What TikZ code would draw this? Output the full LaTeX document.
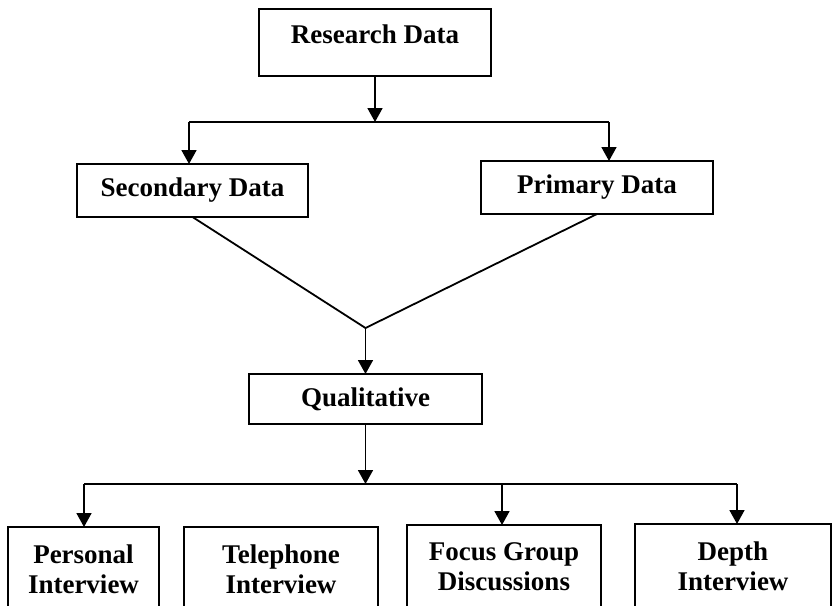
\documentclass[tikz,border=0pt]{standalone}
\usepackage{fontspec}
\setmainfont{Liberation Serif}
\usepackage{tikz}
\usetikzlibrary{arrows.meta}
\usetikzlibrary{calc}

\begin{document}
\begin{tikzpicture}[x=0.5pt,y=-0.5pt]

\tikzstyle{box}=[draw,line width=1pt,inner sep=0pt,outer sep=0pt,align=center,font=\fontsize{13.5}{15}\selectfont\bfseries]
\tikzstyle{link}=[line width=0.9pt]
\tikzstyle{arr}=[link,-{Triangle[length=7pt,width=7.5pt]}]

\useasboundingbox (0,0) rectangle (832,606);
\clip (0,0) rectangle (832,606);

% TOP
\node [box,minimum width=116pt,minimum height=33.5pt,text depth=8pt] (research) at (375,42.5) {Research Data};

% SECOND LEVEL
\node [box,minimum width=115.5pt,minimum height=26.5pt] (secondary) at (192.5,190.5) {Secondary Data};
\node [box,minimum width=116pt,minimum height=26.5pt] (primary) at (597,187.5) {Primary Data};

% QUALITATIVE
\node [box,minimum width=116.5pt,minimum height=25pt] (qual) at (365.5,399) {Qualitative};

% METHODS (bottom edges run off the page)
\node [box,anchor=north,minimum width=75.5pt,minimum height=42pt] (personal) at (83.5,527) {Personal\\Interview};
\node [box,anchor=north,minimum width=97pt,minimum height=42pt] (telephone) at (281,527) {Telephone\\Interview};
\node [box,anchor=north,minimum width=97pt,minimum height=42pt] (focus) at (504,525) {Focus Group\\Discussions};
\node [box,anchor=north,minimum width=98pt,minimum height=42pt] (depth) at (733,524) {Depth\\Interview};

% BUS 1
\coordinate (b1) at (375,122);
\coordinate (b1l) at (189,122);
\coordinate (b1r) at (609,122);
\draw [arr] (research.south) -- (b1);
\draw [link] (b1l) -- (b1r);
\draw [arr] (b1l) -- (b1l |- secondary.north);
\draw [arr] (b1r) -- (b1r |- primary.north);

% MERGE
\coordinate (j) at (365.5,328);
\draw [link] (secondary.south) -- (j) -- (primary.south);
\draw [arr] (j) -- (qual.north);

% BUS 2
\coordinate (b2) at (365.5,484);
\coordinate (b2l) at (84,484);
\coordinate (b2m) at (502,484);
\coordinate (b2r) at (737,484);
\draw [arr] (qual.south) -- (b2);
\draw [link] (b2l) -- (b2r);
\draw [arr] (b2l) -- (b2l |- personal.north);
\draw [arr] (b2m) -- (b2m |- focus.north);
\draw [arr] (b2r) -- (b2r |- depth.north);
% \draw [arr] (telephone.north) -- ...

\end{tikzpicture}
\end{document}
